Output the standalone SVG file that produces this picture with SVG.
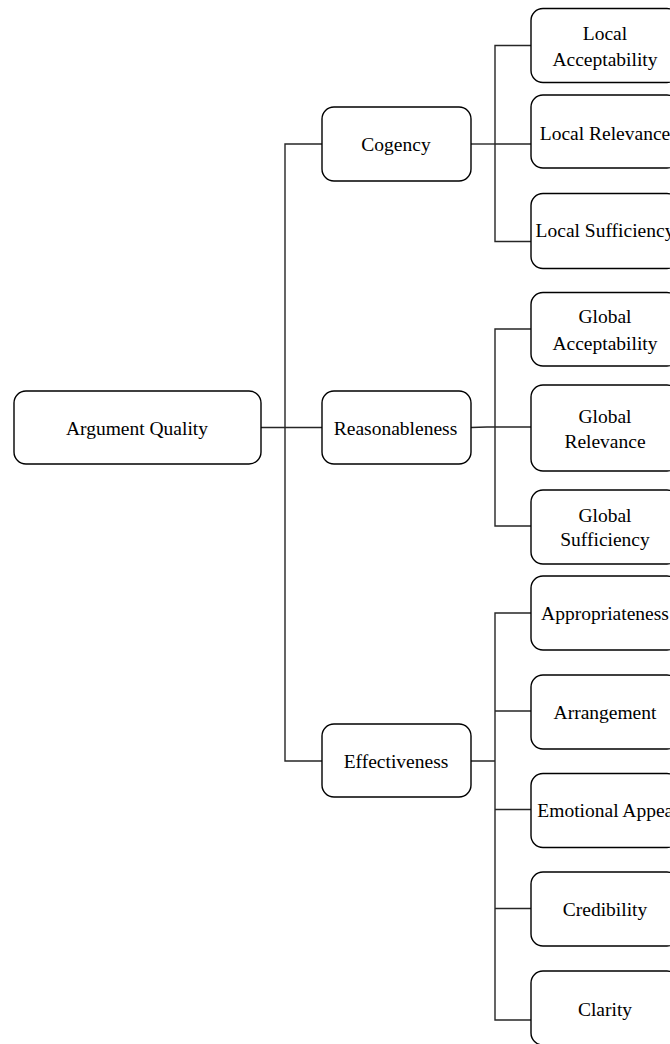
<svg xmlns="http://www.w3.org/2000/svg" width="670" height="1044" viewBox="0 0 670 1044">
  <style>
    .box { fill: #ffffff; stroke: #000000; stroke-width: 1.4; }
    .lbl { font-family: 'Liberation Serif', 'Times New Roman', Times, 'DejaVu Serif', serif; font-size: 19.5px; fill: #000000; text-anchor: middle; }
    .wire { fill: none; stroke: #262626; stroke-width: 1.4; }
  </style>
  <rect width="670" height="1044" fill="#ffffff"/>

  <!-- tree connectors -->
  <g id="connectors">
    <path class="wire" d="M261 427.5 H322"/>
    <path class="wire" d="M322 144 H285 V761 H322"/>
    <path class="wire" d="M471 144 H495" stroke-width="2.2"/>
    <path class="wire" d="M531 45.5 H495 V241.5 H531 M495 144 H531"/>
    <path class="wire" d="M471 427.5 L495 426.8 M531 329 H495 V526 H531 M495 427 H531"/>
    <path class="wire" d="M471 761 H495 M531 613 H495 V1020 H531 M495 711 H531 M495 809.5 H531 M495 908.5 H531"/>
  </g>

  <!-- root -->
  <g id="argument-quality">
    <rect class="box" x="14" y="391" width="247" height="73" rx="12"/>
    <text class="lbl" x="137" y="435" font-size="20.8">Argument Quality</text>
  </g>

  <!-- dimensions -->
  <g id="cogency">
    <rect class="box" x="322" y="107" width="149" height="74" rx="12"/>
    <text class="lbl" x="396" y="151">Cogency</text>
  </g>
  <g id="reasonableness">
    <rect class="box" x="322" y="391" width="149" height="73" rx="12"/>
    <text class="lbl" x="395.5" y="435">Reasonableness</text>
  </g>
  <g id="effectiveness">
    <rect class="box" x="322" y="724" width="149" height="73" rx="12"/>
    <text class="lbl" x="396" y="767.5">Effectiveness</text>
  </g>

  <!-- cogency sub-dimensions -->
  <g id="local-acceptability">
    <rect class="box" x="531" y="8.5" width="148" height="74" rx="12"/>
    <text class="lbl" x="605" y="39.5">Local</text>
    <text class="lbl" x="605" y="66">Acceptability</text>
  </g>
  <g id="local-relevance">
    <rect class="box" x="531" y="95" width="148" height="73" rx="12"/>
    <text class="lbl" x="605" y="139.5">Local Relevance</text>
  </g>
  <g id="local-sufficiency">
    <rect class="box" x="531" y="193.5" width="148" height="75" rx="12"/>
    <text class="lbl" x="605" y="237">Local Sufficiency</text>
  </g>

  <!-- reasonableness sub-dimensions -->
  <g id="global-acceptability">
    <rect class="box" x="531" y="292.5" width="148" height="73.5" rx="12"/>
    <text class="lbl" x="605" y="323">Global</text>
    <text class="lbl" x="605" y="349.5">Acceptability</text>
  </g>
  <g id="global-relevance">
    <rect class="box" x="531" y="385" width="148" height="86" rx="12"/>
    <text class="lbl" x="605" y="423">Global</text>
    <text class="lbl" x="605" y="448">Relevance</text>
  </g>
  <g id="global-sufficiency">
    <rect class="box" x="531" y="490" width="148" height="74" rx="12"/>
    <text class="lbl" x="605" y="521.5">Global</text>
    <text class="lbl" x="605" y="546">Sufficiency</text>
  </g>

  <!-- effectiveness sub-dimensions -->
  <g id="appropriateness">
    <rect class="box" x="531" y="576" width="148" height="74" rx="12"/>
    <text class="lbl" x="605" y="619.5">Appropriateness</text>
  </g>
  <g id="arrangement">
    <rect class="box" x="531" y="675" width="148" height="74" rx="12"/>
    <text class="lbl" x="605" y="718.5">Arrangement</text>
  </g>
  <g id="emotional-appeal">
    <rect class="box" x="531" y="773.5" width="148" height="74" rx="12"/>
    <text class="lbl" x="608" y="816.5">Emotional Appeal</text>
  </g>
  <g id="credibility">
    <rect class="box" x="531" y="872" width="148" height="74" rx="12"/>
    <text class="lbl" x="605" y="915.5">Credibility</text>
  </g>
  <g id="clarity">
    <rect class="box" x="531" y="971" width="148" height="74" rx="12"/>
    <text class="lbl" x="605" y="1015.5">Clarity</text>
  </g>
</svg>
